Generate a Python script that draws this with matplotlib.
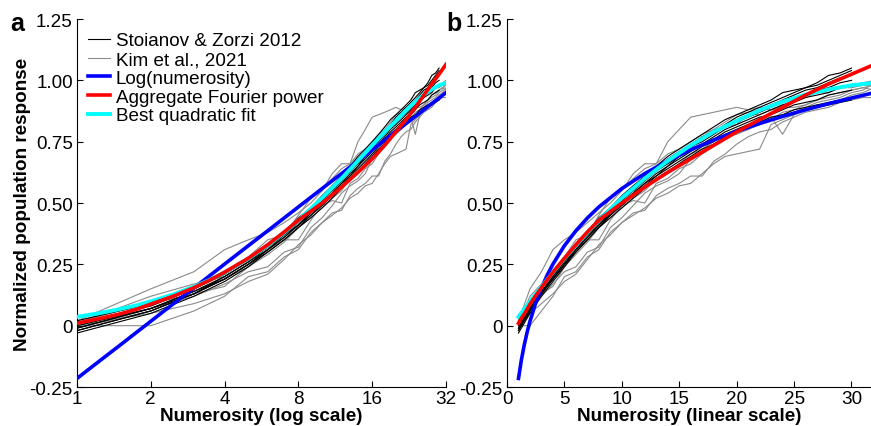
import matplotlib
matplotlib.use("Agg")
import matplotlib.pyplot as plt
from matplotlib.ticker import FixedLocator, NullLocator

plt.rcParams["font.family"] = ["Liberation Sans", "DejaVu Sans"]

# numerosities of the simulated / recorded curves
N_STOIANOV = list(range(1, 31))
N_KIM = list(range(1, 33))

# Stoianov & Zorzi 2012 (black), n = 1..30
STOIANOV_Y = [
    [0.02, 0.09, 0.15, 0.21, 0.27, 0.33, 0.38, 0.43, 0.48, 0.52, 0.57, 0.61, 0.65, 0.69, 0.72,
     0.75, 0.78, 0.81, 0.84, 0.86, 0.88, 0.90, 0.92, 0.95, 0.96, 0.97, 0.99, 1.02, 1.03, 1.05],
    [0.01, 0.08, 0.15, 0.21, 0.27, 0.32, 0.38, 0.44, 0.48, 0.53, 0.57, 0.60, 0.64, 0.68, 0.71,
     0.74, 0.77, 0.79, 0.82, 0.85, 0.87, 0.89, 0.91, 0.93, 0.95, 0.97, 0.98, 1.00, 1.02, 1.04],
    [0.00, 0.07, 0.14, 0.20, 0.26, 0.32, 0.37, 0.42, 0.47, 0.51, 0.56, 0.60, 0.63, 0.67, 0.70,
     0.73, 0.76, 0.79, 0.81, 0.84, 0.86, 0.88, 0.90, 0.92, 0.94, 0.96, 0.97, 0.99, 1.01, 1.02],
    [-0.01, 0.07, 0.14, 0.19, 0.25, 0.31, 0.37, 0.41, 0.46, 0.51, 0.55, 0.59, 0.63, 0.66, 0.69,
     0.73, 0.75, 0.78, 0.81, 0.83, 0.85, 0.87, 0.89, 0.91, 0.93, 0.94, 0.96, 0.97, 0.99, 1.00],
    [-0.02, 0.06, 0.13, 0.19, 0.25, 0.31, 0.36, 0.41, 0.46, 0.50, 0.54, 0.58, 0.62, 0.65, 0.69,
     0.72, 0.74, 0.77, 0.80, 0.82, 0.84, 0.86, 0.88, 0.90, 0.91, 0.93, 0.94, 0.95, 0.97, 0.98],
    [-0.01, 0.07, 0.13, 0.20, 0.26, 0.31, 0.36, 0.41, 0.45, 0.50, 0.54, 0.58, 0.61, 0.65, 0.68,
     0.71, 0.74, 0.76, 0.79, 0.81, 0.83, 0.85, 0.86, 0.88, 0.90, 0.91, 0.92, 0.94, 0.95, 0.96],
    [-0.02, 0.06, 0.13, 0.19, 0.25, 0.30, 0.35, 0.40, 0.45, 0.49, 0.53, 0.57, 0.61, 0.64, 0.67,
     0.70, 0.73, 0.75, 0.78, 0.80, 0.82, 0.83, 0.85, 0.86, 0.88, 0.89, 0.90, 0.91, 0.92, 0.93],
    [-0.03, 0.05, 0.12, 0.18, 0.24, 0.30, 0.35, 0.40, 0.44, 0.48, 0.52, 0.56, 0.60, 0.63, 0.66,
     0.69, 0.72, 0.74, 0.77, 0.79, 0.81, 0.82, 0.84, 0.85, 0.87, 0.88, 0.89, 0.90, 0.91, 0.92],
]

# Kim et al., 2021 (grey), n = 1..32
KIM_Y = [
    [0.02, 0.15, 0.22, 0.31, 0.35, 0.38, 0.42, 0.46, 0.50, 0.55, 0.60, 0.64, 0.66, 0.70, 0.72, 0.75,
     0.78, 0.80, 0.83, 0.86, 0.87, 0.88, 0.90, 0.91, 0.92, 0.93, 0.95, 0.96, 0.97, 0.97, 0.98, 0.98],
    [0.00, 0.00, 0.06, 0.12, 0.20, 0.22, 0.28, 0.31, 0.38, 0.42, 0.45, 0.48, 0.52, 0.54, 0.57, 0.58,
     0.62, 0.66, 0.69, 0.70, 0.71, 0.72, 0.82, 0.84, 0.86, 0.88, 0.90, 0.90, 0.92, 0.94, 0.95, 0.97],
    [0.01, 0.10, 0.16, 0.22, 0.28, 0.35, 0.37, 0.45, 0.52, 0.55, 0.62, 0.66, 0.66, 0.75, 0.80, 0.85,
     0.86, 0.87, 0.88, 0.89, 0.88, 0.89, 0.88, 0.90, 0.92, 0.94, 0.95, 0.95, 0.97, 0.98, 0.99, 1.00],
    [-0.01, 0.06, 0.13, 0.19, 0.24, 0.29, 0.34, 0.40, 0.44, 0.48, 0.52, 0.55, 0.60, 0.62, 0.66, 0.70,
     0.72, 0.75, 0.78, 0.80, 0.82, 0.84, 0.85, 0.78, 0.86, 0.88, 0.89, 0.90, 0.92, 0.93, 0.94, 0.95],
    [0.00, 0.05, 0.09, 0.13, 0.18, 0.21, 0.27, 0.33, 0.37, 0.42, 0.46, 0.47, 0.53, 0.56, 0.58, 0.61,
     0.61, 0.67, 0.70, 0.74, 0.77, 0.79, 0.80, 0.83, 0.85, 0.87, 0.88, 0.89, 0.91, 0.92, 0.93, 0.93],
    [0.02, 0.09, 0.13, 0.16, 0.24, 0.31, 0.35, 0.35, 0.43, 0.49, 0.51, 0.50, 0.58, 0.60, 0.64, 0.66,
     0.70, 0.73, 0.77, 0.78, 0.80, 0.82, 0.84, 0.87, 0.88, 0.90, 0.92, 0.93, 0.94, 0.96, 0.97, 0.98],
    [0.01, 0.12, 0.17, 0.20, 0.26, 0.33, 0.38, 0.42, 0.47, 0.50, 0.54, 0.60, 0.65, 0.67, 0.69, 0.72,
     0.77, 0.80, 0.81, 0.82, 0.86, 0.86, 0.88, 0.89, 0.89, 0.90, 0.92, 0.94, 0.95, 0.96, 0.97, 0.96],
    [0.00, 0.07, 0.12, 0.17, 0.22, 0.24, 0.30, 0.32, 0.40, 0.44, 0.49, 0.54, 0.57, 0.59, 0.62, 0.68,
     0.71, 0.74, 0.76, 0.79, 0.80, 0.83, 0.85, 0.86, 0.87, 0.89, 0.91, 0.92, 0.93, 0.95, 0.96, 0.99],
]

# smooth model curves, read at these numerosities
N_MODEL = [1, 1.25, 1.5, 1.75, 2, 2.5, 3, 3.5, 4, 5, 6, 7, 8, 10, 12, 14, 16, 18, 20, 22, 24, 26,
           28, 30, 32]
LOG_Y = [-0.215, -0.140, -0.079, -0.027, 0.018, 0.093, 0.154, 0.206, 0.251, 0.326, 0.387, 0.439,
         0.484, 0.559, 0.620, 0.672, 0.717, 0.757, 0.792, 0.824, 0.853, 0.880, 0.905, 0.928, 0.950]
FOURIER_Y = [0.010, 0.030, 0.048, 0.067, 0.088, 0.122, 0.155, 0.187, 0.218, 0.275, 0.330, 0.382,
             0.430, 0.500, 0.565, 0.625, 0.680, 0.735, 0.790, 0.840, 0.890, 0.940, 0.985, 1.025,
             1.065]
QUAD_Y = [0.036, 0.052, 0.068, 0.083, 0.099, 0.129, 0.159, 0.188, 0.217, 0.273, 0.327, 0.379,
          0.429, 0.520, 0.600, 0.672, 0.735, 0.790, 0.835, 0.878, 0.913, 0.942, 0.963, 0.980,
          0.990]

Y_TICKS = [-0.25, 0, 0.25, 0.5, 0.75, 1.0, 1.25]
Y_TICKLABELS = ["-0.25", "0", "0.25", "0.50", "0.75", "1.00", "1.25"]
LOG_XTICKS = [1, 2, 4, 8, 16, 32]
LIN_XTICKS = [0, 5, 10, 15, 20, 25, 30]

FS = 13.6

fig = plt.figure(figsize=(8.71, 4.27), dpi=100)
ax_a = fig.add_axes([0.0884, 0.0913, 0.4236, 0.8618])
ax_b = fig.add_axes([0.5821, 0.0913, 0.4179, 0.8618])


def draw(ax):
    for i, y in enumerate(KIM_Y):
        ax.plot(N_KIM, y, color="#8a8a8a", lw=0.8,
                label="Kim et al., 2021" if i == 0 else None, zorder=2)
    for i, y in enumerate(STOIANOV_Y):
        ax.plot(N_STOIANOV, y, color="black", lw=0.8,
                label="Stoianov & Zorzi 2012" if i == 0 else None, zorder=3)
    ax.plot(N_MODEL, LOG_Y, color="#0000ff", lw=2.6, label="Log(numerosity)", zorder=4)
    ax.plot(N_MODEL, QUAD_Y, color="#00ffff", lw=2.8, label="Best quadratic fit", zorder=5)
    ax.plot(N_MODEL, FOURIER_Y, color="#ff0000", lw=2.6, label="Aggregate Fourier power", zorder=6)

    ax.set_ylim(-0.25, 1.25)
    ax.yaxis.set_major_locator(FixedLocator(Y_TICKS))
    ax.set_yticklabels(Y_TICKLABELS)
    ax.spines["top"].set_visible(False)
    ax.spines["right"].set_visible(False)
    ax.tick_params(axis="y", direction="in", length=4, width=0.8, labelsize=FS, pad=3)
    ax.tick_params(axis="x", direction="in", length=4, width=0.8, labelsize=FS, pad=2)
    ax.tick_params(which="minor", length=0)


draw(ax_a)
ax_a.set_xscale("log", base=2)
ax_a.set_xlim(1, 32)
ax_a.xaxis.set_major_locator(FixedLocator(LOG_XTICKS))
ax_a.xaxis.set_minor_locator(NullLocator())
ax_a.set_xticklabels([str(t) for t in LOG_XTICKS])
ax_a.set_xlabel("Numerosity (log scale)", fontsize=FS, fontweight="bold", labelpad=0.5)
ax_a.set_ylabel("Normalized population response", fontsize=FS, fontweight="bold", labelpad=-1)

handles, labels = ax_a.get_legend_handles_labels()
order = ["Stoianov & Zorzi 2012", "Kim et al., 2021", "Log(numerosity)",
         "Aggregate Fourier power", "Best quadratic fit"]
hmap = dict(zip(labels, handles))
ax_a.legend([hmap[k] for k in order], order, loc="upper left", bbox_to_anchor=(0.0, 0.995),
            frameon=False, fontsize=FS, handlelength=1.15, handletextpad=0.3,
            labelspacing=0.08, borderaxespad=0.2)

draw(ax_b)
ax_b.set_xlim(0, 31.7)
ax_b.xaxis.set_major_locator(FixedLocator(LIN_XTICKS))
ax_b.set_xlabel("Numerosity (linear scale)", fontsize=FS, fontweight="bold", labelpad=0.5)

fig.text(0.012, 0.928, "a", fontsize=18, fontweight="bold")
fig.text(0.512, 0.928, "b", fontsize=18, fontweight="bold")

fig.savefig("out.png", dpi=100)
